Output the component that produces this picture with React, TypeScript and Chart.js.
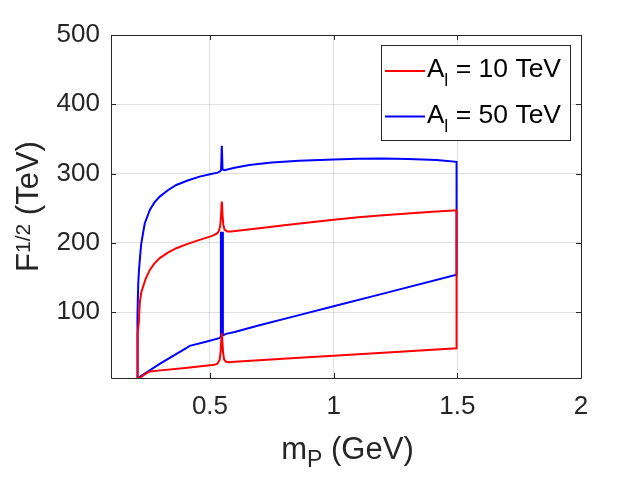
import React, { useEffect, useRef } from "react";
import { Chart, registerables } from "chart.js";
Chart.register(...registerables);

const xTicks = [0.5, 1, 1.5, 2];
const yTicks = [100, 200, 300, 400, 500];
const seriesLabels = ["10 TeV", "50 TeV"];

// A_l = 10 TeV (closed contour: upper branch out, lower branch back)
const redX = [
  0.208, 0.208, 0.2125, 0.2145, 0.217, 0.222, 0.23, 0.24, 0.257, 0.275, 0.297, 0.33, 0.364, 0.41, 0.458, 0.5, 0.518,
  0.53, 0.537, 0.542, 0.545, 0.547, 0.548, 0.549, 0.551, 0.554, 0.559, 0.57, 0.585, 0.7, 0.8, 0.9, 1.0, 1.1,
  1.2, 1.3, 1.4, 1.497, 1.497, 1.2, 1.0, 0.86, 0.78, 0.6, 0.578, 0.565, 0.557, 0.553, 0.55, 0.548, 0.546,
  0.543, 0.539, 0.53, 0.518, 0.4, 0.3, 0.257, 0.235, 0.217, 0.208,
];
const redY = [
  5, 70, 85, 100, 115, 128, 137, 148, 161, 170, 178, 186, 192.3, 198.5, 204.3, 209, 211.5,
  214, 218, 226, 240, 256, 259.6, 256, 240, 226, 219, 216.5, 216.3, 221, 225.5, 229.5, 233.5, 237,
  240, 242.5, 245, 247, 48, 41.5, 37.1, 34.1, 32.3, 28.4, 27.9, 28.5, 32, 42, 60, 69.8, 60,
  42, 31, 25.5, 24, 19.5, 16, 14.4, 10, 5, 5,
];

// A_l = 50 TeV
const blueX = [
  0.207, 0.207, 0.208, 0.21, 0.213, 0.217, 0.222, 0.23, 0.2367, 0.257, 0.275, 0.297, 0.33, 0.364, 0.41, 0.458,
  0.5, 0.531, 0.54, 0.545, 0.547, 0.548, 0.549, 0.551, 0.558, 0.6, 0.659, 0.75, 0.86, 1.0, 1.094, 1.2, 1.3,
  1.416, 1.497, 1.497, 1.2, 1.0, 0.86, 0.7, 0.6, 0.565,
  0.5523, 0.5523, 0.5483, 0.5443, 0.5443,
  0.538, 0.48, 0.418, 0.404, 0.3, 0.2085, 0.207,
];
const blueY = [
  5, 93.7, 110, 140, 160, 178, 198, 215, 228.4, 247.6, 258, 266.8, 276, 283.6, 290, 295.6,
  299, 301.4, 303, 305, 330, 340, 330, 306, 305, 308.5, 312.5, 316, 318.5, 320.5, 321.3, 321.8, 321,
  319.7, 317, 154, 126.8, 108.5, 95.7, 81, 71.5, 68.7,
  66.5, 216, 65.5, 216, 65,
  62.5, 57, 51.4, 48, 26, 5, 5,
];

const FONT = "'Liberation Sans', Arial, Helvetica, sans-serif";
const TXT = "#262626";

type Part = { t: string; size: number; dy: number };

function richWidth(ctx: CanvasRenderingContext2D, parts: Part[]) {
  let w = 0;
  for (const p of parts) {
    ctx.font = `${p.size}px ${FONT}`;
    w += ctx.measureText(p.t).width;
  }
  return w;
}

function drawRich(ctx: CanvasRenderingContext2D, parts: Part[], x: number, y: number) {
  let cx = x;
  ctx.textBaseline = "alphabetic";
  ctx.textAlign = "left";
  for (const p of parts) {
    ctx.font = `${p.size}px ${FONT}`;
    ctx.fillText(p.t, cx, y + p.dy);
    cx += ctx.measureText(p.t).width;
  }
}

const decor = {
  id: "decor",
  afterDatasetsDraw(chart: any) {
    const ctx: CanvasRenderingContext2D = chart.ctx;
    const { left, right, top, bottom } = chart.chartArea;
    const xs = chart.scales.x;
    const ys = chart.scales.y;
    ctx.save();
    ctx.setLineDash([]);
    ctx.strokeStyle = TXT;
    ctx.lineWidth = 1;
    // box
    ctx.beginPath();
    ctx.rect(Math.round(left) + 0.5, Math.round(top) + 0.5, Math.round(right - left), Math.round(bottom - top));
    ctx.stroke();
    // inward ticks
    ctx.beginPath();
    for (const v of xTicks) {
      const px = Math.round(xs.getPixelForValue(v)) + 0.5;
      ctx.moveTo(px, bottom);
      ctx.lineTo(px, bottom - 5);
      ctx.moveTo(px, top);
      ctx.lineTo(px, top + 5);
    }
    for (const v of yTicks) {
      const py = Math.round(ys.getPixelForValue(v)) + 0.5;
      ctx.moveTo(left, py);
      ctx.lineTo(left + 5, py);
      ctx.moveTo(right, py);
      ctx.lineTo(right - 5, py);
    }
    ctx.stroke();

    // legend
    const lx0 = 381.5, ly0 = 45.5, lx1 = 570.5, ly1 = 140.5;
    ctx.fillStyle = "#ffffff";
    ctx.fillRect(lx0, ly0, lx1 - lx0, ly1 - ly0);
    ctx.strokeStyle = TXT;
    ctx.strokeRect(lx0, ly0, lx1 - lx0, ly1 - ly0);
    const colors = ["#ff0000", "#0000ff"];
    const rows = [71, 116.5];
    rows.forEach((ry, i) => {
      ctx.strokeStyle = colors[i];
      ctx.lineWidth = 2;
      ctx.beginPath();
      ctx.moveTo(385, ry);
      ctx.lineTo(425, ry);
      ctx.stroke();
      ctx.fillStyle = "#000000";
      drawRich(
        ctx,
        [
          { t: "A", size: 26, dy: 0 },
          { t: "l", size: 18, dy: 9 },
          { t: " = " + seriesLabels[i], size: 26.5, dy: 0 },
        ],
        427,
        ry + 6
      );
    });

    // axis titles
    ctx.fillStyle = TXT;
    const xParts: Part[] = [
      { t: "m", size: 31, dy: 0 },
      { t: "P", size: 23, dy: 8 },
      { t: " (GeV)", size: 31, dy: 0 },
    ];
    const xw = richWidth(ctx, xParts);
    drawRich(ctx, xParts, 347.5 - xw / 2, 459);

    const yParts: Part[] = [
      { t: "F", size: 31, dy: 0 },
      { t: "1/2", size: 21, dy: -8 },
      { t: " (TeV)", size: 31, dy: 0 },
    ];
    const yw = richWidth(ctx, yParts);
    ctx.translate(38, (top + bottom) / 2);
    ctx.rotate(-Math.PI / 2);
    drawRich(ctx, yParts, -yw / 2, 0);
    ctx.restore();
  },
};

export default function App() {
  const ref = useRef<HTMLCanvasElement | null>(null);
  useEffect(() => {
    if (!ref.current) return;
    const mk = (xs: number[], ys: number[]) => xs.map((x, i) => ({ x, y: ys[i] }));
    const lineStyle = {
      showLine: true,
      borderWidth: 2,
      pointRadius: 0,
      tension: 0,
      // a solid "dash" longer than the whole path; keeps every vertex drawn
      borderDash: [100000, 0],
    };
    const chart = new Chart(ref.current, {
      type: "scatter",
      data: {
        datasets: [
          {
            label: "A_l = " + seriesLabels[0],
            data: mk(redX, redY),
            borderColor: "#ff0000",
            backgroundColor: "#ff0000",
            ...lineStyle,
          },
          {
            label: "A_l = " + seriesLabels[1],
            data: mk(blueX, blueY),
            borderColor: "#0000ff",
            backgroundColor: "#0000ff",
            ...lineStyle,
          },
        ],
      },
      options: {
        animation: false,
        responsive: false,
        devicePixelRatio: 1,
        layout: { padding: { left: 0, top: 35, right: 62, bottom: 0 } },
        plugins: { legend: { display: false }, tooltip: { enabled: false } },
        scales: {
          x: {
            type: "linear",
            min: 0.1,
            max: 2,
            afterBuildTicks: (s: any) => {
              s.ticks = xTicks.map((v) => ({ value: v }));
            },
            afterFit: (s: any) => {
              s.height = 103;
            },
            grid: { color: "rgba(38,38,38,0.15)", drawTicks: false },
            border: { display: false },
            ticks: {
              font: { family: FONT, size: 26 },
              color: TXT,
              padding: 13,
              maxRotation: 0,
              autoSkip: false,
              callback: (v: any) => String(v),
            },
          },
          y: {
            type: "linear",
            min: 5,
            max: 500,
            afterBuildTicks: (s: any) => {
              s.ticks = yTicks.map((v) => ({ value: v }));
            },
            afterFit: (s: any) => {
              s.width = 111;
            },
            grid: { color: "rgba(38,38,38,0.15)", drawTicks: false },
            border: { display: false },
            ticks: {
              font: { family: FONT, size: 26 },
              color: TXT,
              padding: 11,
              autoSkip: false,
              callback: (v: any) => String(v),
            },
          },
        },
      },
      plugins: [decor],
    });
    return () => chart.destroy();
  }, []);
  return (
    <div style={{ position: "fixed", left: 0, top: 0, width: 643, height: 481, background: "#fff" }}>
      <canvas ref={ref} width={643} height={481} style={{ display: "block" }} />
    </div>
  );
}
